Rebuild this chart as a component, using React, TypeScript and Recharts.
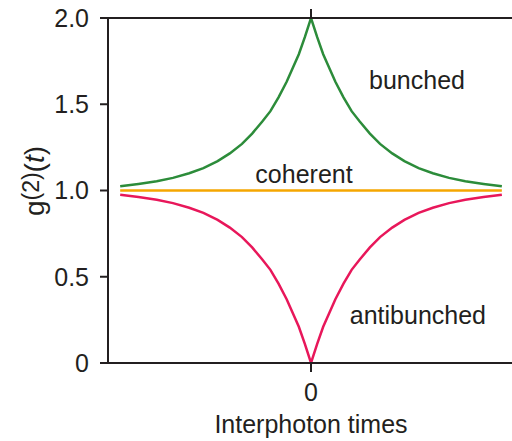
import { LineChart, Line, XAxis, YAxis } from "recharts";

// interphoton time (arbitrary units, 0 = coincidence)
const times = [
  -0.94, -0.85, -0.76, -0.68, -0.6, -0.53, -0.46, -0.4, -0.34, -0.29, -0.24, -0.2, -0.16, -0.12, -0.09, -0.06, -0.03,
  0,
  0.03, 0.06, 0.09, 0.12, 0.16, 0.2, 0.24, 0.29, 0.34, 0.4, 0.46, 0.53, 0.6, 0.68, 0.76, 0.85, 0.94,
];
const bunched = [
  1.024, 1.038, 1.054, 1.073, 1.1, 1.13, 1.17, 1.215, 1.27, 1.33, 1.4, 1.46, 1.54, 1.63, 1.71, 1.79, 1.89,
  2.0,
  1.89, 1.79, 1.71, 1.63, 1.54, 1.46, 1.4, 1.33, 1.27, 1.215, 1.17, 1.13, 1.1, 1.073, 1.054, 1.038, 1.024,
];
const coherent = [
  1, 1, 1, 1, 1, 1, 1, 1, 1, 1, 1, 1, 1, 1, 1, 1, 1,
  1,
  1, 1, 1, 1, 1, 1, 1, 1, 1, 1, 1, 1, 1, 1, 1, 1, 1,
];
const antibunched = [
  0.976, 0.962, 0.946, 0.927, 0.9, 0.87, 0.83, 0.785, 0.73, 0.67, 0.6, 0.54, 0.46, 0.37, 0.29, 0.21, 0.11,
  0,
  0.11, 0.21, 0.29, 0.37, 0.46, 0.54, 0.6, 0.67, 0.73, 0.785, 0.83, 0.87, 0.9, 0.927, 0.946, 0.962, 0.976,
];
const yTicks = [0, 0.5, 1, 1.5, 2];
const xTicks = [0];

const INK = "#231f20";
const FONT = "'Liberation Sans', Arial, sans-serif";

const data = times.map((t, i) => ({
  t,
  bunched: bunched[i],
  coherent: coherent[i],
  antibunched: antibunched[i],
}));

export default function App() {
  const tickStyle = { fill: INK, fontSize: 25, fontFamily: FONT };
  return (
    <div style={{ position: "absolute", left: 0, top: 0, width: 512, height: 441, background: "#fff" }}>
      <LineChart width={512} height={441} data={data} margin={{ top: 8, right: 0, bottom: 38, left: 0 }}>
        <XAxis
          xAxisId="top"
          orientation="top"
          type="number"
          dataKey="t"
          domain={[-1, 0.99]}
          ticks={xTicks}
          height={10}
          tickSize={9}
          tickFormatter={() => ""}
          axisLine={{ stroke: INK, strokeWidth: 2 }}
          tickLine={{ stroke: INK, strokeWidth: 2 }}
        />
        <XAxis
          type="number"
          dataKey="t"
          domain={[-1, 0.99]}
          ticks={xTicks}
          height={40}
          tickSize={9}
          tickMargin={11}
          tick={tickStyle}
          axisLine={{ stroke: INK, strokeWidth: 2 }}
          tickLine={{ stroke: INK, strokeWidth: 2 }}
        />
        <YAxis
          type="number"
          domain={[0, 2]}
          ticks={yTicks}
          width={108}
          tickSize={8}
          tickMargin={11}
          tick={tickStyle}
          tickFormatter={(v: number) => (v === 0 ? "0" : v.toFixed(1))}
          axisLine={{ stroke: INK, strokeWidth: 2 }}
          tickLine={{ stroke: INK, strokeWidth: 2 }}
        />
        <Line type="linear" dataKey="coherent" stroke="#f5a600" strokeWidth={2.5} dot={false} isAnimationActive={false} />
        <Line type="linear" dataKey="bunched" stroke="#2c8c3a" strokeWidth={2.5} dot={false} isAnimationActive={false} />
        <Line type="linear" dataKey="antibunched" stroke="#e8175a" strokeWidth={2.5} dot={false} isAnimationActive={false} />
      </LineChart>
      <svg
        width={512}
        height={441}
        style={{ position: "absolute", left: 0, top: 0, pointerEvents: "none" }}
        fontFamily={FONT}
        fill={INK}
        fontSize={25}
      >
        <text x={465} y={89} textAnchor="end">bunched</text>
        <text x={304} y={183} textAnchor="middle">coherent</text>
        <text x={486} y={324} textAnchor="end">antibunched</text>
        <text x={311} y={433} textAnchor="middle">Interphoton times</text>
        <text transform="translate(44,181) rotate(-90)" textAnchor="middle" fontSize={28}>
          g<tspan dy={-5} fontSize={23}>(2)</tspan>
          <tspan dy={5}>(</tspan>
          <tspan fontStyle="italic">t</tspan>)
        </text>
      </svg>
    </div>
  );
}
